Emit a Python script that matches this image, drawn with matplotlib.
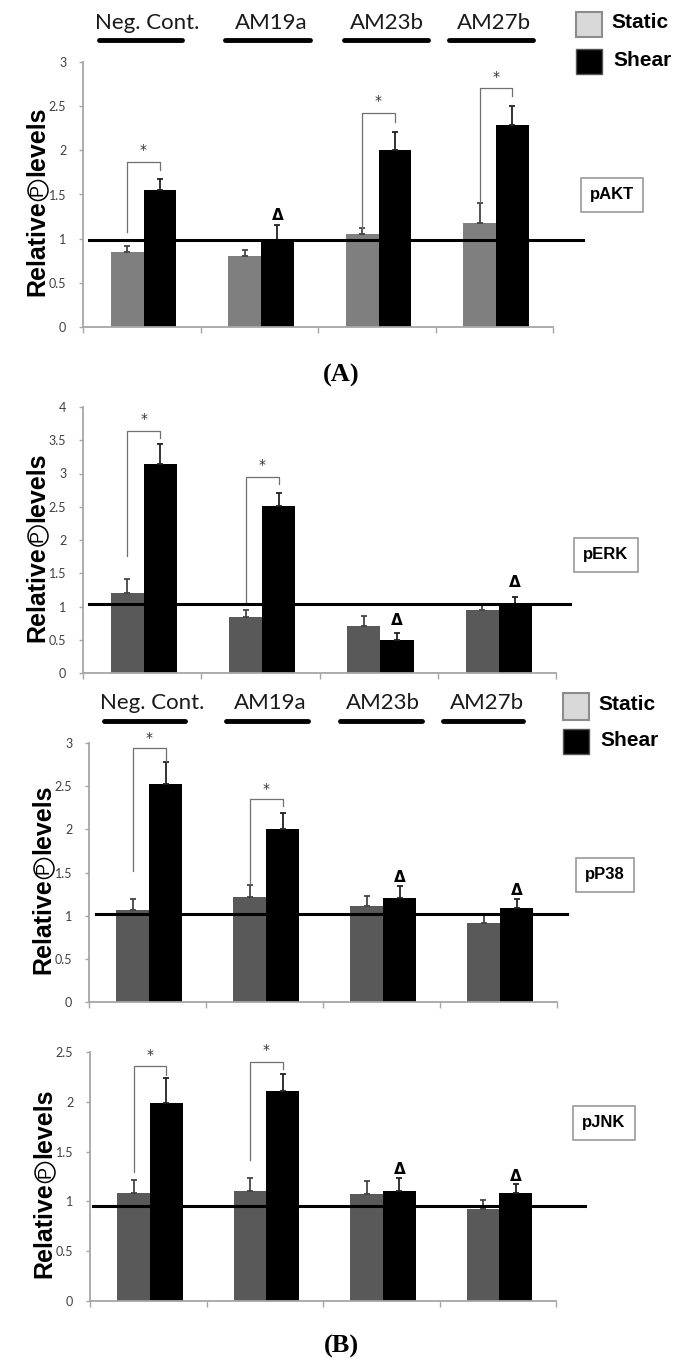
import numpy as np
import matplotlib.pyplot as plt
from matplotlib.patches import Rectangle, Circle
from matplotlib.ticker import FuncFormatter, MultipleLocator

W, H = 682, 1371

groups = ['Neg. Cont.', 'AM19a', 'AM23b', 'AM27b']
proteins = ['pAKT', 'pERK', 'pP38', 'pJNK']

# bar heights and upper error
akt_static = [0.85, 0.80, 1.05, 1.18]
akt_static_err = [0.07, 0.07, 0.07, 0.22]
akt_shear = [1.55, 0.99, 2.00, 2.29]
akt_shear_err = [0.12, 0.16, 0.21, 0.21]

erk_static = [1.20, 0.84, 0.71, 0.95]
erk_static_err = [0.21, 0.11, 0.14, 0.09]
erk_shear = [3.15, 2.51, 0.50, 1.04]
erk_shear_err = [0.30, 0.20, 0.10, 0.10]

p38_static = [1.06, 1.22, 1.11, 0.91]
p38_static_err = [0.13, 0.14, 0.12, 0.10]
p38_shear = [2.53, 2.00, 1.21, 1.09]
p38_shear_err = [0.25, 0.19, 0.13, 0.10]

jnk_static = [1.08, 1.10, 1.07, 0.92]
jnk_static_err = [0.13, 0.13, 0.13, 0.09]
jnk_shear = [1.99, 2.11, 1.10, 1.08]
jnk_shear_err = [0.25, 0.17, 0.13, 0.09]

# significance brackets: (group, left start, top, right end, star y)
akt_brackets = [(0, 1.08, 1.87, 1.78, 1.92), (2, 1.11, 2.42, 2.32, 2.48), (3, 1.42, 2.70, 2.62, 2.75)]
erk_brackets = [(0, 1.76, 3.64, 3.54, 3.72), (1, 1.04, 2.95, 2.84, 3.02)]
p38_brackets = [(0, 1.52, 2.94, 2.79, 2.98), (1, 1.37, 2.35, 2.27, 2.39)]
jnk_brackets = [(0, 1.30, 2.36, 2.27, 2.40), (1, 1.42, 2.40, 2.33, 2.45)]

# delta markers: (group, y)
akt_delta = [(1, 1.26)]
erk_delta = [(2, 0.79), (3, 1.36)]
p38_delta = [(2, 1.44), (3, 1.29)]
jnk_delta = [(2, 1.32), (3, 1.25)]

ref_level = [0.99, 1.04, 1.02, 0.95]
ymax = [3, 4, 3, 2.5]

# layout in pixels: left, top, right, bottom
boxes = [(83, 62, 553, 327), (83, 407, 556, 673), (89, 743, 557, 1002), (90, 1052, 556, 1301)]
ref_span = [(89, 583), (89, 570), (96, 567), (93, 585)]
label_box = [(612, 195), (606, 555), (605, 875), (604, 1123)]
static_col = ['#7f7f7f', '#595959', '#595959', '#595959']

panels = [
    (akt_static, akt_static_err, akt_shear, akt_shear_err, akt_brackets, akt_delta),
    (erk_static, erk_static_err, erk_shear, erk_shear_err, erk_brackets, erk_delta),
    (p38_static, p38_static_err, p38_shear, p38_shear_err, p38_brackets, p38_delta),
    (jnk_static, jnk_static_err, jnk_shear, jnk_shear_err, jnk_brackets, jnk_delta),
]

fig = plt.figure(figsize=(W / 100, H / 100), dpi=100)

x = np.arange(4)
bw = 0.28
off_s, off_h = 0.375, 0.655

for i, (st, st_e, sh, sh_e, brk, dlt) in enumerate(panels):
    l, t, r, b = boxes[i]
    ax = fig.add_axes([l / W, 1 - b / H, (r - l) / W, (b - t) / H])
    ax.bar(x + off_s, st, bw, color=static_col[i], zorder=2)
    ax.bar(x + off_h, sh, bw, color='black', zorder=2)
    ax.errorbar(x + off_s, st, yerr=[np.zeros(4), st_e], fmt='none', ecolor='#444444',
                elinewidth=1.3, capsize=2.5, capthick=1.3, zorder=3)
    ax.errorbar(x + off_h, sh, yerr=[np.zeros(4), sh_e], fmt='none', ecolor='#222222',
                elinewidth=1.3, capsize=2.5, capthick=1.3, zorder=3)

    # reference line at control level
    gpx = (r - l) / 4.0
    x0, x1 = ref_span[i]
    ax.plot([(x0 - l) / gpx, (x1 - l) / gpx], [ref_level[i]] * 2, color='black', lw=2.2,
            clip_on=False, zorder=4)

    for g, y0, ytop, y1, ys in brk:
        ax.plot([g + off_s, g + off_s, g + off_h, g + off_h], [y0, ytop, ytop, y1],
                color='#707070', lw=0.9, clip_on=False, zorder=3)
        ax.text(g + (off_s + off_h) / 2, ys, '*', ha='center', va='bottom', fontsize=10,
                color='#333333', clip_on=False)
    for g, yd in dlt:
        ax.text(g + off_h, yd, 'Δ', ha='center', va='center', fontsize=11, fontweight='bold',
                family='DejaVu Sans', clip_on=False)

    ax.set_xlim(0, 4)
    ax.set_ylim(0, ymax[i])
    ax.yaxis.set_major_locator(MultipleLocator(0.5))
    ax.yaxis.set_major_formatter(FuncFormatter(lambda v, p: '%g' % v))
    ax.set_xticks([0, 1, 2, 3, 4])
    ax.set_xticklabels([])
    for s in ['top', 'right']:
        ax.spines[s].set_visible(False)
    for s in ['left', 'bottom']:
        ax.spines[s].set_color('#a6a6a6')
        ax.spines[s].set_linewidth(1.3)
    ax.tick_params(axis='y', length=3, width=1, color='#a6a6a6', pad=9, labelsize=9,
                   labelcolor='#404040')
    ax.tick_params(axis='x', length=4, width=1, color='#a6a6a6', direction='out')
    for lab in ax.get_yticklabels():
        lab.set_family('Lato')

# overlay in pixel coordinates for headers, legends and labels
ov = fig.add_axes([0, 0, 1, 1], zorder=10)
ov.set_xlim(0, W)
ov.set_ylim(H, 0)
ov.axis('off')
ov.patch.set_alpha(0)

head_x = [[147, 271, 387, 494], [152, 270, 383, 487]]
line_x = [[(99, 182), (225, 310), (344, 428), (449, 533)],
          [(104, 185), (226, 308), (340, 422), (443, 523)]]
head_y = [23, 703]
line_y = [40, 721]
for k in range(2):
    for j, name in enumerate(groups):
        ov.text(head_x[k][j], head_y[k], name, ha='center', va='center', fontsize=16,
                family='Lato', color='#1a1a1a')
        a, c = line_x[k][j]
        ov.plot([a, c], [line_y[k]] * 2, color='black', lw=3.5, solid_capstyle='round')

legend_pos = [((576, 12, 26, 25), (611, 23), (576, 49, 26, 25), (613, 60)),
              ((563, 693, 26, 27), (598, 704), (563, 729, 26, 25), (600, 740))]
for sbox, stxt, hbox, htxt in legend_pos:
    ov.add_patch(Rectangle((sbox[0], sbox[1]), sbox[2], sbox[3], fc='#d9d9d9', ec='#8c8c8c', lw=1.5))
    ov.add_patch(Rectangle((hbox[0], hbox[1]), hbox[2], hbox[3], fc='black', ec='#555555', lw=1.0))
    ov.text(stxt[0], stxt[1], 'Static', ha='left', va='center', fontsize=15, fontweight='bold',
            family='Liberation Sans')
    ov.text(htxt[0], htxt[1], 'Shear', ha='left', va='center', fontsize=15, fontweight='bold',
            family='Liberation Sans')

for i, name in enumerate(proteins):
    cx, cy = label_box[i]
    ov.text(cx, cy, name, ha='center', va='center', fontsize=12, fontweight='bold',
            family='Liberation Sans',
            bbox=dict(boxstyle='square,pad=0.55', fc='white', ec='#9a9a9a', lw=1.2))

    # y axis label with circled P
    l, t, r, b = boxes[i]
    cy = (t + b) / 2 - 6
    lx = l - 46
    ov.text(lx, cy + 12, 'Relative', rotation=90, ha='center', va='top', fontsize=18,
            fontweight='bold', family='Liberation Sans')
    ov.text(lx, cy - 12, 'levels', rotation=90, ha='center', va='bottom', fontsize=18,
            fontweight='bold', family='Liberation Sans')
    ov.add_patch(Circle((lx + 1, cy + 2), 10, fc='white', ec='black', lw=1.1, zorder=3))
    ov.text(lx + 1.5, cy + 2, 'P', rotation=90, ha='center', va='center', fontsize=13,
            family='Liberation Sans', zorder=4)

ov.text(341, 375, '(A)', ha='center', va='center', fontsize=19, fontweight='bold',
        family='Liberation Serif')
ov.text(341, 1346, '(B)', ha='center', va='center', fontsize=19, fontweight='bold',
        family='Liberation Serif')

fig.savefig('out.png', dpi=100)
